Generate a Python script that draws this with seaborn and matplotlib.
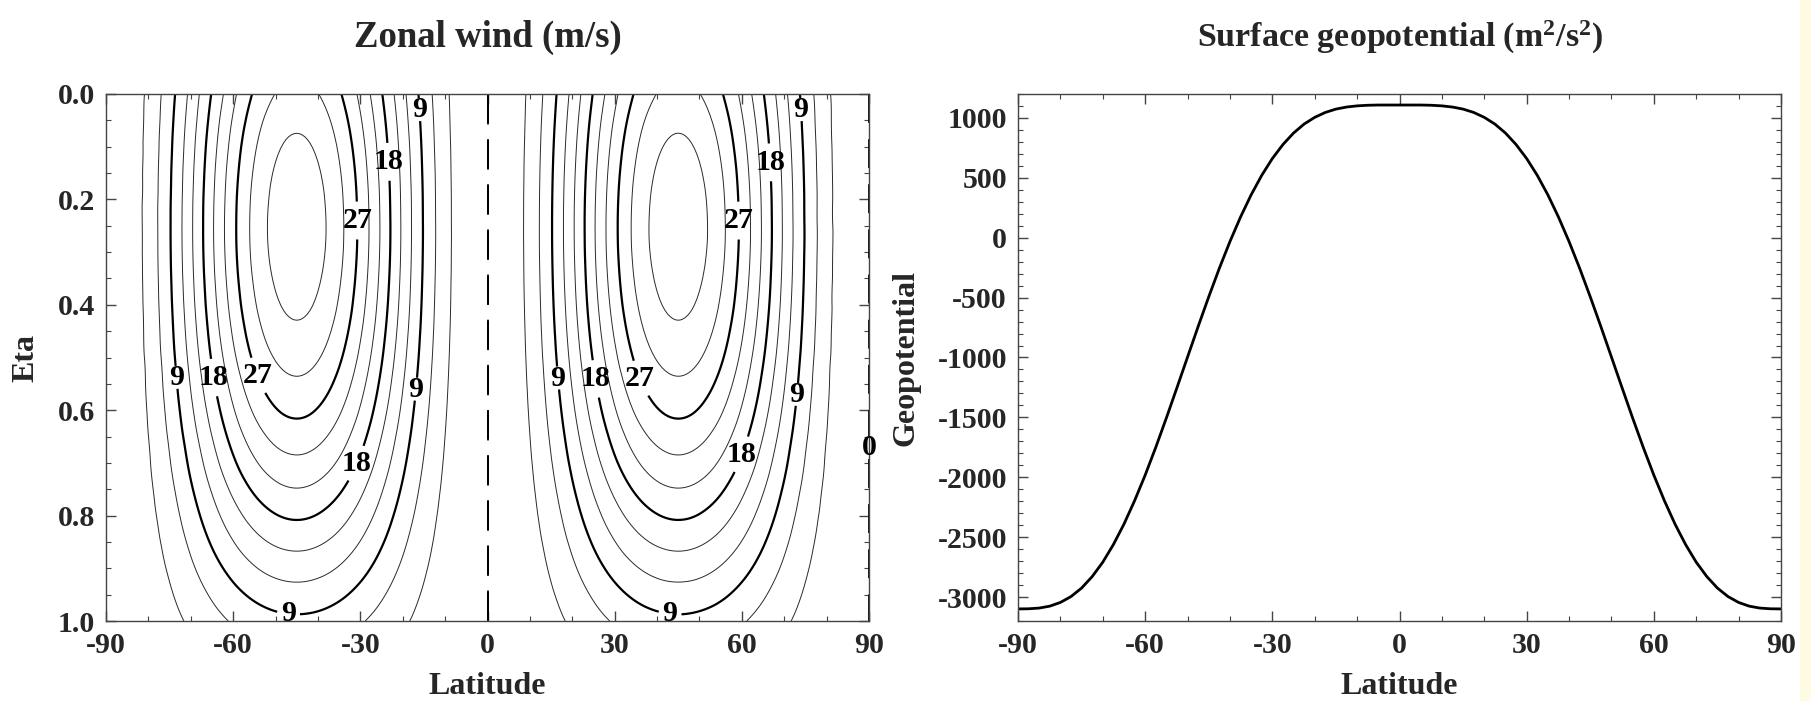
import numpy as np
import pandas as pd
import matplotlib
matplotlib.use("Agg")
import matplotlib.pyplot as plt
import matplotlib.tri as mtri
from matplotlib.ticker import MultipleLocator
from matplotlib.patches import Rectangle
import seaborn as sns

# ---------------- data ----------------
lat = [-90, -85, -80, -75, -70, -65, -60, -55, -50, -45, -40, -35, -30, -25, -20, -15, -10, -5,
       0, 5, 10, 15, 20, 25, 30, 35, 40, 45, 50, 55, 60, 65, 70, 75, 80, 85, 90]
# zonal wind at the jet-core level (m/s) along latitude
u_core = [0.0, 1.06, 4.09, 8.75, 14.46, 20.54, 26.25, 30.91, 33.94, 35.0, 33.94, 30.91, 26.25,
          20.54, 14.46, 8.75, 4.09, 1.06,
          0.0, 1.06, 4.09, 8.75, 14.46, 20.54, 26.25, 30.91, 33.94, 35.0, 33.94, 30.91, 26.25,
          20.54, 14.46, 8.75, 4.09, 1.06, 0.0]
eta = [0.0, 0.05, 0.10, 0.15, 0.20, 0.25, 0.30, 0.35, 0.40, 0.45, 0.50,
       0.55, 0.60, 0.65, 0.70, 0.75, 0.80, 0.85, 0.90, 0.95, 1.00]
# vertical structure (fraction of jet-core wind)
u_vert = [0.886, 0.926, 0.958, 0.981, 0.995, 1.000, 0.996, 0.982, 0.960, 0.929, 0.890,
          0.843, 0.790, 0.730, 0.666, 0.597, 0.526, 0.454, 0.381, 0.309, 0.240]

# surface geopotential (m^2/s^2) along latitude
geo_lat = [-90, -87.5, -85, -82.5, -80, -77.5, -75, -72.5, -70, -67.5, -65, -62.5, -60, -57.5,
           -55, -52.5, -50, -47.5, -45, -42.5, -40, -37.5, -35, -32.5, -30, -27.5, -25, -22.5,
           -20, -17.5, -15, -12.5, -10, -7.5, -5, -2.5, 0, 2.5, 5, 7.5, 10, 12.5, 15, 17.5,
           20, 22.5, 25, 27.5, 30, 32.5, 35, 37.5, 40, 42.5, 45, 47.5, 50, 52.5, 55, 57.5,
           60, 62.5, 65, 67.5, 70, 72.5, 75, 77.5, 80, 82.5, 85, 87.5, 90]
geopot = [-3099, -3098, -3092, -3076, -3045, -2996, -2925, -2829, -2709, -2562, -2391, -2196,
          -1982, -1750, -1505, -1252, -996, -741, -493, -255, -32, 173, 358, 521, 661, 778,
          874, 949, 1005, 1046, 1074, 1091, 1101, 1106, 1108, 1108, 1108, 1108, 1108, 1106,
          1101, 1091, 1074, 1046, 1005, 949, 874, 778, 661, 521, 358, 173, -32, -255, -493,
          -741, -996, -1252, -1505, -1750, -1982, -2196, -2391, -2562, -2709, -2829, -2925,
          -2996, -3045, -3076, -3092, -3098, -3099]

thin_levels = [3, 6, 12, 15, 21, 24, 30, 33]
bold_levels = [9, 18, 27]

# ---------------- style ----------------
sns.set_theme(style="ticks")
plt.rcParams["font.family"] = ["Liberation Serif", "DejaVu Serif"]
plt.rcParams["font.weight"] = "bold"
plt.rcParams["axes.labelweight"] = "bold"
plt.rcParams["axes.titleweight"] = "bold"
plt.rcParams["axes.unicode_minus"] = False
plt.rcParams["mathtext.fontset"] = "custom"
plt.rcParams["mathtext.rm"] = "Liberation Serif:bold"
plt.rcParams["mathtext.default"] = "rm"

TICK_FS = 21.5
LABEL_FS = 23

fig = plt.figure(figsize=(18.11, 7.01), dpi=100)
fig.patch.set_facecolor("white")
fig.patches.append(Rectangle((1800 / 1811, 0), 11 / 1811, 1, transform=fig.transFigure,
                             facecolor="#fffbe2", edgecolor="none", zorder=0))

ax1 = fig.add_axes([106 / 1811, 80 / 701, 763 / 1811, 527 / 701])
ax2 = fig.add_axes([1018 / 1811, 80 / 701, 763 / 1811, 527 / 701])

# ---------------- zonal wind contours ----------------
LAT, ETA = np.meshgrid(np.array(lat, float), np.array(eta, float))
U = np.outer(np.array(u_vert), np.array(u_core))

# smooth the contour geometry with matplotlib's own cubic triangulation refiner
tri_n = mtri.Triangulation(LAT.ravel() / 180.0, ETA.ravel())
refiner = mtri.UniformTriRefiner(tri_n)
tri_r, U_r = refiner.refine_field(U.ravel(), subdiv=3)
tri_plot = mtri.Triangulation(tri_r.x * 180.0, tri_r.y, tri_r.triangles)

cs_thin = ax1.tricontour(tri_plot, U_r, levels=thin_levels, colors="#2a2a2a", linewidths=0.7)
cs_bold = ax1.tricontour(tri_plot, U_r, levels=bold_levels, colors="black", linewidths=1.6)

zero = ax1.contour(LAT, ETA, U, levels=[0], colors="black", linewidths=1.3,
                   linestyles=[(0, (16, 9))])

label_pos = [(-77, 0.54), (-66, 0.54), (-56, 0.54), (-17, 0.03), (-26, 0.13), (-30, 0.24),
             (-17, 0.56), (-34, 0.69), (-47, 0.99),
             (15, 0.54), (26, 0.54), (36, 0.54), (73, 0.03), (66, 0.13), (61, 0.24),
             (73, 0.57), (62, 0.69), (43, 0.99)]
ax1.clabel(cs_bold, manual=label_pos, fmt="%d", fontsize=TICK_FS,
           inline=True, inline_spacing=4)
for t in cs_bold.labelTexts:
    t.set_rotation(0)
    t.set_fontweight("bold")
try:
    ax1.clabel(zero, manual=[(90, 0.67)], fmt="%d", fontsize=TICK_FS, inline=True,
               inline_spacing=4)
    for t in zero.labelTexts:
        t.set_rotation(0)
        t.set_clip_on(False)
        t.set_fontweight("bold")
except Exception:
    pass

ax1.set_xlim(-90, 90)
ax1.set_ylim(1.0, 0.0)
ax1.set_xticks([-90, -60, -30, 0, 30, 60, 90])
ax1.set_yticks([0.0, 0.2, 0.4, 0.6, 0.8, 1.0])
ax1.set_yticklabels(["0.0", "0.2", "0.4", "0.6", "0.8", "1.0"])
ax1.xaxis.set_minor_locator(MultipleLocator(10))
ax1.yaxis.set_minor_locator(MultipleLocator(0.05))
ax1.set_xlabel("Latitude", fontsize=LABEL_FS, labelpad=9)
ax1.set_ylabel("Eta", fontsize=LABEL_FS, labelpad=12)
ax1.set_title("Zonal wind (m/s)", fontsize=26.5, pad=34)

# ---------------- surface geopotential ----------------
df = pd.DataFrame({"Latitude": geo_lat, "Geopotential": geopot})
sns.lineplot(data=df, x="Latitude", y="Geopotential", ax=ax2, color="black", linewidth=2.0)
ax2.set_xlim(-90, 90)
ax2.set_ylim(-3200, 1200)
ax2.set_xticks([-90, -60, -30, 0, 30, 60, 90])
ax2.set_yticks([-3000, -2500, -2000, -1500, -1000, -500, 0, 500, 1000])
ax2.xaxis.set_minor_locator(MultipleLocator(10))
ax2.yaxis.set_minor_locator(MultipleLocator(100))
ax2.set_xlabel("Latitude", fontsize=LABEL_FS, labelpad=9)
ax2.set_ylabel("Geopotential", fontsize=LABEL_FS, labelpad=12)
ax2.set_title(r"Surface geopotential (m$^{2}$/s$^{2}$)", fontsize=24.5, pad=34)

for ax in (ax1, ax2):
    for sp in ax.spines.values():
        sp.set_visible(True)
        sp.set_linewidth(1.0)
        sp.set_color("#444444")
    ax.tick_params(which="both", direction="in", top=True, right=True, labelsize=TICK_FS,
                   color="#444444")
    ax.tick_params(which="major", length=7, width=1.0, pad=8)
    ax.tick_params(which="minor", length=3.5, width=0.8)
    for t in ax.get_xticklabels() + ax.get_yticklabels():
        t.set_fontweight("bold")

fig.savefig("out.png", dpi=100)
